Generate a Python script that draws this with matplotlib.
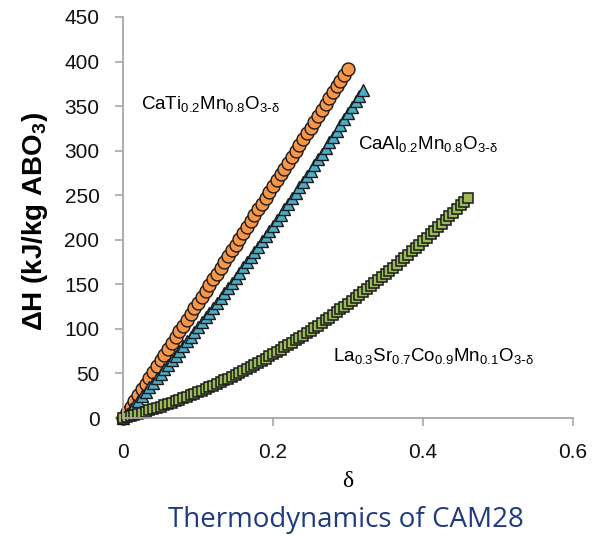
import matplotlib
matplotlib.use("Agg")
import matplotlib.pyplot as plt

plt.rcParams['font.family'] = ['Liberation Sans', 'DejaVu Sans']
plt.rcParams['mathtext.default'] = 'regular'

# delta grid (step 0.005)
delta = [0.000, 0.005, 0.010, 0.015, 0.020, 0.025, 0.030, 0.035, 0.040, 0.045,
         0.050, 0.055, 0.060, 0.065, 0.070, 0.075, 0.080, 0.085, 0.090, 0.095,
         0.100, 0.105, 0.110, 0.115, 0.120, 0.125, 0.130, 0.135, 0.140, 0.145,
         0.150, 0.155, 0.160, 0.165, 0.170, 0.175, 0.180, 0.185, 0.190, 0.195,
         0.200, 0.205, 0.210, 0.215, 0.220, 0.225, 0.230, 0.235, 0.240, 0.245,
         0.250, 0.255, 0.260, 0.265, 0.270, 0.275, 0.280, 0.285, 0.290, 0.295,
         0.300, 0.305, 0.310, 0.315, 0.320, 0.325, 0.330, 0.335, 0.340, 0.345,
         0.350, 0.355, 0.360, 0.365, 0.370, 0.375, 0.380, 0.385, 0.390, 0.395,
         0.400, 0.405, 0.410, 0.415, 0.420, 0.425, 0.430, 0.435, 0.440, 0.445,
         0.450, 0.455, 0.460]

h_cati = [0, 6.5, 12.9, 19.4, 25.8, 32.3, 38.7, 45.2, 51.7, 58.2,
          64.6, 71.1, 77.6, 84.1, 90.6, 97.1, 103.6, 110.0, 116.5, 123.0,
          129.6, 136.1, 142.6, 149.1, 155.6, 162.1, 168.6, 175.2, 181.7, 188.2,
          194.7, 201.3, 207.8, 214.3, 220.9, 227.4, 234.0, 240.5, 247.1, 253.6,
          260.2, 266.8, 273.3, 279.9, 286.5, 293.0, 299.6, 306.2, 312.8, 319.4,
          325.9, 332.5, 339.1, 345.7, 352.3, 358.9, 365.5, 372.1, 378.7, 385.3,
          392.0]

h_caal = [0, 4.8, 9.7, 14.5, 19.4, 24.4, 29.3, 34.3, 39.4, 44.4,
          49.5, 54.6, 59.8, 64.9, 70.1, 75.4, 80.6, 85.9, 91.3, 96.6,
          102.0, 107.4, 112.9, 118.3, 123.8, 129.4, 134.9, 140.5, 146.2, 151.8,
          157.5, 163.2, 169.0, 174.7, 180.5, 186.4, 192.2, 198.1, 204.1, 210.0,
          216.0, 222.0, 228.1, 234.1, 240.2, 246.4, 252.5, 258.7, 265.0, 271.2,
          277.5, 283.8, 290.2, 296.5, 302.9, 309.4, 315.8, 322.3, 328.9, 335.4,
          342.0, 348.6, 355.3, 361.9, 368.6]

h_lscm = [0, 1.1, 2.3, 3.5, 4.7, 5.9, 7.2, 8.5, 9.9, 11.3,
          12.7, 14.2, 15.7, 17.2, 18.8, 20.4, 22.0, 23.7, 25.4, 27.1,
          28.9, 30.7, 32.5, 34.4, 36.3, 38.3, 40.3, 42.3, 44.3, 46.4,
          48.5, 50.7, 52.9, 55.1, 57.3, 59.6, 62.0, 64.3, 66.7, 69.1,
          71.6, 74.1, 76.6, 79.2, 81.8, 84.4, 87.1, 89.8, 92.5, 95.3,
          98.1, 101.0, 103.8, 106.8, 109.7, 112.7, 115.7, 118.7, 121.8, 125.0,
          128.1, 131.3, 134.5, 137.8, 141.1, 144.4, 147.7, 151.1, 154.6, 158.0,
          161.5, 165.1, 168.6, 172.2, 175.9, 179.5, 183.2, 187.0, 190.7, 194.6,
          198.4, 202.3, 206.2, 210.1, 214.1, 218.1, 222.2, 226.3, 230.4, 234.5,
          238.7, 242.9, 247.2]

labels = [r'CaTi$_{0.2}$Mn$_{0.8}$O$_{3\text{-}δ}$',
          r'CaAl$_{0.2}$Mn$_{0.8}$O$_{3\text{-}δ}$',
          r'La$_{0.3}$Sr$_{0.7}$Co$_{0.9}$Mn$_{0.1}$O$_{3\text{-}δ}$']
xticks = [0, 0.2, 0.4, 0.6]
xticklabels = ['0', '0.2', '0.4', '0.6']
yticks = [0, 50, 100, 150, 200, 250, 300, 350, 400, 450]

fig = plt.figure(figsize=(5.95, 5.36), dpi=100)
ax = fig.add_axes([123/595, 1-418/536, 450/595, 401/536])

ax.plot(delta[:len(h_cati)], h_cati, linestyle='none', marker='o', markersize=9.3,
        markerfacecolor='#F79646', markeredgecolor='#1a1a1a', markeredgewidth=1.0, clip_on=False)
ax.plot(delta[:len(h_caal)], h_caal, linestyle='none', marker='^', markersize=9.3,
        markerfacecolor='#4BACC6', markeredgecolor='#1a1a1a', markeredgewidth=1.0, clip_on=False)
ax.plot(delta[:len(h_lscm)], h_lscm, linestyle='none', marker='s', markersize=7.5,
        markerfacecolor='#9BBB59', markeredgecolor='#1a1a1a', markeredgewidth=1.1, clip_on=False)

ax.set_xlim(0, 0.6)
ax.set_ylim(0, 450)
ax.set_xticks(xticks)
ax.set_xticklabels(xticklabels)
ax.set_yticks(yticks)

for s in ['top', 'right']:
    ax.spines[s].set_visible(False)
for s in ['left', 'bottom']:
    ax.spines[s].set_color('#A6A6A6')
    ax.spines[s].set_linewidth(1.3)
ax.tick_params(axis='both', direction='out', length=6, width=1.2, color='#A6A6A6',
               labelsize=15, labelcolor='#111111')
ax.tick_params(axis='y', pad=11)
ax.tick_params(axis='x', pad=12)

ax.set_ylabel(r'ΔH (kJ/kg ABO$_3$)', fontsize=20, fontweight='bold')
ax.yaxis.set_label_coords(-0.163, 0.49)
ax.set_xlabel('δ', fontsize=17, family=['Liberation Serif', 'DejaVu Serif'])
ax.xaxis.set_label_coords(0.5, -0.132)

ax.text(0.024, 352, labels[0], fontsize=13.5, ha='left', va='center')
ax.text(0.313, 307, labels[1], fontsize=13.5, ha='left', va='center')
ax.text(0.28, 70, labels[2], fontsize=13.5, ha='left', va='center')

fig.text(346/595, 1-520/536, 'Thermodynamics of CAM28', fontsize=20, color='#1F3A80',
         ha='center', va='center', family=['Open Sans', 'DejaVu Sans'])

fig.savefig('out.png', dpi=100)
